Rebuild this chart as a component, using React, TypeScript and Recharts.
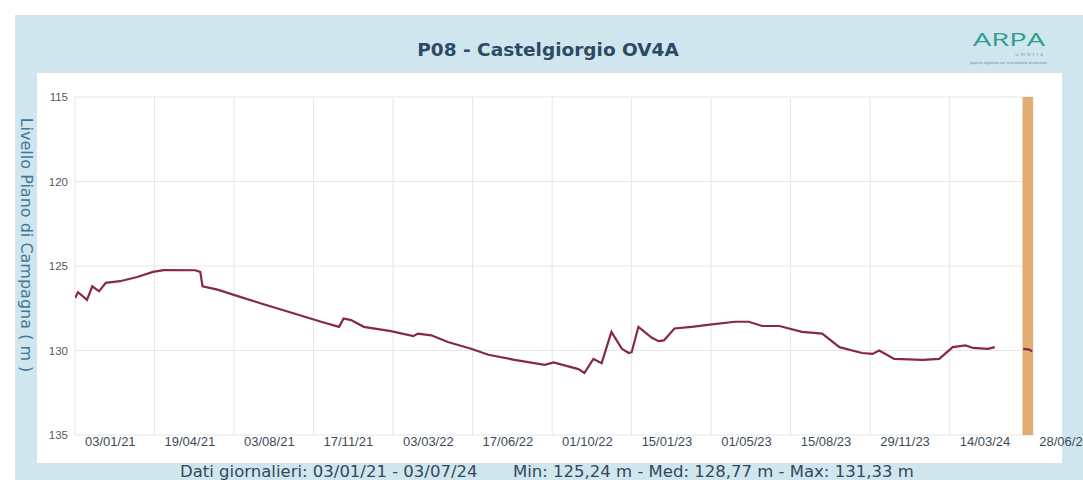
import React from "react";
import {
  LineChart,
  Line,
  XAxis,
  YAxis,
  CartesianGrid,
  ReferenceArea,
} from "recharts";

// ---- data ----
const dates = [
  "2021-01-03", "2021-01-07", "2021-01-19", "2021-01-26", "2021-02-04", "2021-02-13",
  "2021-03-04", "2021-03-27", "2021-04-17", "2021-05-01", "2021-06-12", "2021-06-19",
  "2021-06-22", "2021-07-12", "2021-08-09", "2021-09-07", "2021-10-21", "2021-11-27",
  "2021-12-21", "2021-12-27", "2022-01-06", "2022-01-23", "2022-02-28", "2022-03-30",
  "2022-04-05", "2022-04-23", "2022-05-15", "2022-06-15", "2022-07-08", "2022-08-12",
  "2022-09-21", "2022-10-03", "2022-11-05", "2022-11-13", "2022-11-25", "2022-12-06",
  "2022-12-19", "2022-12-26", "2023-01-02", "2023-01-11", "2023-01-15", "2023-01-24",
  "2023-01-31", "2023-02-11", "2023-02-20", "2023-02-27", "2023-03-13", "2023-04-05",
  "2023-05-02", "2023-06-02", "2023-06-20", "2023-07-08", "2023-07-31", "2023-08-30",
  "2023-09-26", "2023-10-19", "2023-11-18", "2023-12-02", "2023-12-11", "2023-12-31",
  "2024-02-07", "2024-02-29", "2024-03-18", "2024-04-04", "2024-04-14", "2024-05-04",
  "2024-05-13", "2024-06-01", "2024-06-20", "2024-06-28", "2024-07-02",
];
const levels: (number | null)[] = [
  126.9, 126.55, 127.0, 126.2, 126.5, 126.0,
  125.9, 125.65, 125.35, 125.24, 125.25, 125.35,
  126.2, 126.4, 126.8, 127.2, 127.8, 128.3,
  128.6, 128.1, 128.2, 128.6, 128.85, 129.15,
  129.0, 129.1, 129.5, 129.9, 130.25, 130.55,
  130.85, 130.7, 131.1, 131.33, 130.5, 130.75,
  128.9, 129.4, 129.9, 130.15, 130.1, 128.6,
  128.85, 129.25, 129.45, 129.4, 128.7, 128.6,
  128.45, 128.3, 128.3, 128.55, 128.55, 128.9,
  129.0, 129.8, 130.15, 130.2, 130.0, 130.5,
  130.55, 130.5, 129.8, 129.7, 129.85, 129.9,
  129.8, null, 129.9, 129.95, 130.05,
];
const tickDates = [
  "2021-01-03", "2021-04-19", "2021-08-03", "2021-11-17", "2022-03-03", "2022-06-17",
  "2022-10-01", "2023-01-15", "2023-05-01", "2023-08-15", "2023-11-29", "2024-03-14",
  "2024-06-28",
];
const yTicks = [115, 120, 125, 130, 135];
const domainStart = "2021-01-03";
const domainEnd = "2024-07-03";
const bandStart = "2024-06-19";
const bandEnd = "2024-07-03";

const title = "P08 - Castelgiorgio OV4A";
const yLabel = "Livello Piano di Campagna ( m )";
const footerLeft = "Dati giornalieri: 03/01/21 - 03/07/24";
const footerRight = "Min: 125,24 m - Med: 128,77 m - Max: 131,33 m";

const data = dates.map((d, i) => ({ t: Date.parse(d), v: levels[i] }));

const pad = (n: number) => (n < 10 ? "0" + n : "" + n);
const fmt = (ms: number) => {
  const d = new Date(ms);
  return `${pad(d.getUTCDate())}/${pad(d.getUTCMonth() + 1)}/${pad(d.getUTCFullYear() % 100)}`;
};

const XTick = (props: any) => {
  const { x, y, payload } = props;
  return (
    <text
      x={x + 10}
      y={y + 11}
      textAnchor="start"
      fontFamily="'Liberation Sans', Arial, sans-serif"
      fontSize={13}
      fill="#3c4b5a"
    >
      {fmt(payload.value)}
    </text>
  );
};

const YTick = (props: any) => {
  const { x, y, payload } = props;
  return (
    <text
      x={x}
      y={y}
      dy="0.36em"
      textAnchor="end"
      fontFamily="'Liberation Sans', Arial, sans-serif"
      fontSize={11.5}
      fill="#555b60"
    >
      {payload.value}
    </text>
  );
};

export default function App() {
  return (
    <div
      style={{
        position: "absolute",
        left: 0,
        top: 0,
        width: 1083,
        height: 480,
        overflow: "hidden",
        background: "#ffffff",
      }}
    >
      <div
        style={{
          position: "absolute",
          left: 15,
          top: 15,
          width: 1068,
          height: 465,
          background: "#cfe6ef",
        }}
      />
      <div
        style={{
          position: "absolute",
          left: 37,
          top: 73,
          width: 1025,
          height: 390,
          background: "#ffffff",
        }}
      />
      <div style={{ position: "absolute", left: 0, top: 0 }}>
        <LineChart
          width={1083}
          height={480}
          data={data}
          margin={{ top: 97, right: 50, bottom: 25, left: 45 }}
        >
          <CartesianGrid stroke="#e6e6e6" strokeWidth={1} />
          <XAxis
            dataKey="t"
            type="number"
            domain={[Date.parse(domainStart), Date.parse(domainEnd)]}
            ticks={tickDates.map((d) => Date.parse(d))}
            tick={<XTick />}
            axisLine={false}
            tickLine={false}
            tickSize={0}
            tickMargin={0}
            height={20}
            interval={0}
            allowDataOverflow
          />
          <YAxis
            type="number"
            domain={[115, 135]}
            ticks={yTicks}
            reversed
            tick={<YTick />}
            axisLine={false}
            tickLine={false}
            tickSize={0}
            tickMargin={7}
            width={30}
            interval={0}
          />
          <ReferenceArea
            x1={Date.parse(bandStart)}
            x2={Date.parse(bandEnd)}
            y1={115}
            y2={135}
            fill="#e3ac72"
            fillOpacity={1}
            stroke="none"
          />
          <Line
            type="linear"
            dataKey="v"
            stroke="#85284c"
            strokeWidth={2.2}
            dot={false}
            connectNulls={false}
            isAnimationActive={false}
          />
        </LineChart>
      </div>
      <svg
        width={1083}
        height={480}
        style={{ position: "absolute", left: 0, top: 0, pointerEvents: "none" }}
      >
        <text
          x={548}
          y={56}
          textAnchor="middle"
          fontFamily="'DejaVu Sans', Verdana, sans-serif"
          fontWeight="bold"
          fontSize={18.5}
          fill="#2c4a63"
        >
          {title}
        </text>
        <text
          x={21}
          y={245}
          transform="rotate(90, 21, 245)"
          textAnchor="middle"
          fontFamily="'DejaVu Sans', Verdana, sans-serif"
          fontSize={16}
          fill="#41789a"
        >
          {yLabel}
        </text>
        <text
          x={180}
          y={477}
          fontFamily="'DejaVu Sans', Verdana, sans-serif"
          fontSize={16.5}
          fill="#34485a"
        >
          {footerLeft}
        </text>
        <text
          x={513}
          y={477}
          fontFamily="'DejaVu Sans', Verdana, sans-serif"
          fontSize={16.5}
          fill="#34485a"
        >
          {footerRight}
        </text>
        <text
          x={973}
          y={46}
          fontFamily="'Open Sans', 'DejaVu Sans', sans-serif"
          fontWeight={400}
          fontSize={19}
          textLength={72}
          lengthAdjust="spacingAndGlyphs"
          fill="#2f9c8e"
        >
          ARPA
        </text>
        <text
          x={1045}
          y={56}
          textAnchor="end"
          fontFamily="'DejaVu Sans', sans-serif"
          fontSize={5}
          letterSpacing={2}
          fill="#5aaea3"
        >
          umbria
        </text>
        <text
          x={970}
          y={64}
          fontFamily="'DejaVu Sans', sans-serif"
          fontSize={3.5}
          textLength={77}
          lengthAdjust="spacingAndGlyphs"
          fill="#7f8b90"
        >
          agenzia regionale per la protezione ambientale
        </text>
      </svg>
    </div>
  );
}
